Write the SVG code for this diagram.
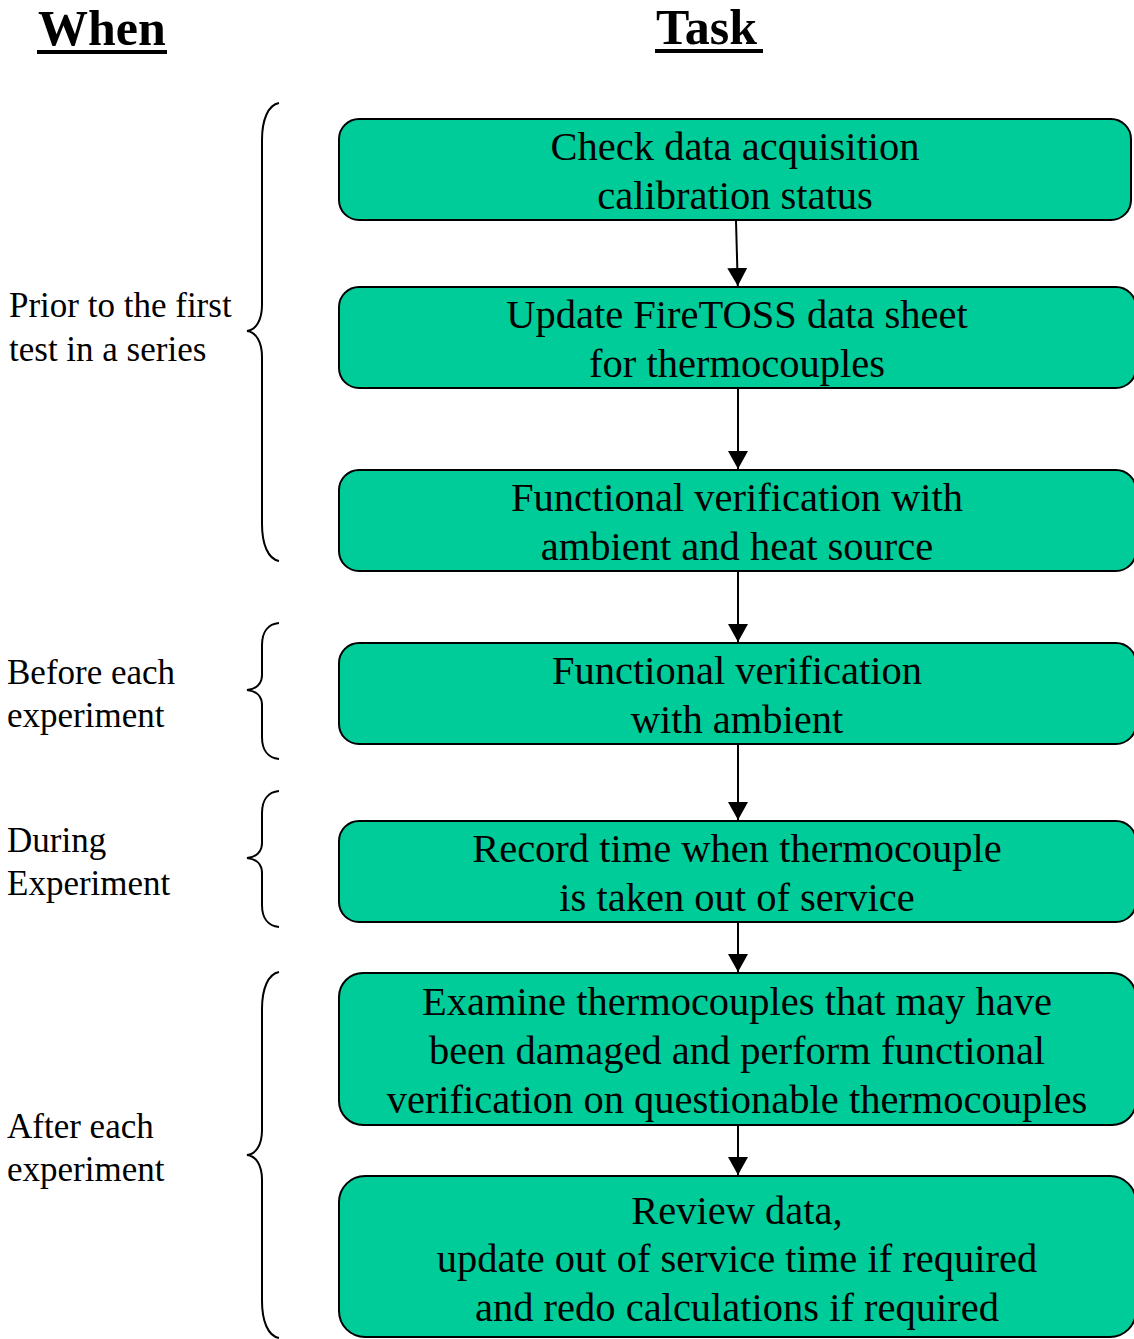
<svg xmlns="http://www.w3.org/2000/svg" width="1134" height="1339" viewBox="0 0 1134 1339">
<style>
.box{fill:#00CC99;stroke:#000;stroke-width:2}
.t{font-family:"Liberation Serif","Times New Roman",serif;font-size:40.5px;fill:#000;text-anchor:middle}
.l{font-family:"Liberation Serif","Times New Roman",serif;font-size:35px;fill:#000}
.h{font-family:"Liberation Serif","Times New Roman",serif;font-size:50px;font-weight:bold;fill:#000}
.c{stroke:#000;stroke-width:2;fill:none}
.b{stroke:#000;stroke-width:2;fill:none}
</style>
<defs>
<marker id="ah" markerWidth="20" markerHeight="20" refX="18" refY="10" orient="auto" markerUnits="userSpaceOnUse" viewBox="0 0 20 20">
<path d="M0,0 L18,10 L0,20 z" fill="#000"/>
</marker>
</defs>
<g id="headers">
<text class="h" x="38" y="45">When</text>
<rect x="37" y="50" width="130" height="4" fill="#000"/>
<text class="h" x="656" y="44">Task</text>
<rect x="655" y="49" width="108" height="4" fill="#000"/>
</g>
<g id="labels">
<text class="l" x="9" y="317">Prior to the first</text>
<text class="l" x="9" y="361">test in a series</text>
<text class="l" x="7" y="684">Before each</text>
<text class="l" x="7" y="727">experiment</text>
<text class="l" x="7" y="852">During</text>
<text class="l" x="7" y="895">Experiment</text>
<text class="l" x="7" y="1138">After each</text>
<text class="l" x="7" y="1181">experiment</text>
</g>
<g id="braces">
<path class="b" d="M279,103 C268,105 262,120 262,140 L262,305 C262,320 256,330 247,331 C256,332 262,342 262,357 L262,524 C262,544 268,559 279,561"/>
<path class="b" d="M279,623 C268,624 262,632 262,645 L262,675 C262,684 256,689 247,690 C256,691 262,696 262,705 L262,737 C262,750 268,758 279,759"/>
<path class="b" d="M279,791 C268,792 262,800 262,813 L262,843 C262,852 256,857 247,858 C256,859 262,864 262,873 L262,905 C262,918 268,926 279,927"/>
<path class="b" d="M279,972 C268,974 262,989 262,1009 L262,1130 C262,1145 256,1154 247,1155 C256,1156 262,1165 262,1180 L262,1301 C262,1321 268,1336 279,1338"/>
</g>
<g id="connectors">
<line class="c" x1="736" y1="221" x2="737.8" y2="286" marker-end="url(#ah)"/>
<line class="c" x1="738" y1="389" x2="738" y2="469" marker-end="url(#ah)"/>
<line class="c" x1="738" y1="572" x2="738" y2="642" marker-end="url(#ah)"/>
<line class="c" x1="738" y1="745" x2="738" y2="820" marker-end="url(#ah)"/>
<line class="c" x1="738" y1="923" x2="738" y2="972" marker-end="url(#ah)"/>
<line class="c" x1="738" y1="1126" x2="738" y2="1175" marker-end="url(#ah)"/>
</g>
<g id="n1">
<rect class="box" x="339" y="119" width="792" height="101" rx="20"/>
<text class="t" x="735" y="160">Check data acquisition</text>
<text class="t" x="735" y="209">calibration status</text>
</g>
<g id="n2">
<rect class="box" x="339" y="287" width="797" height="101" rx="20"/>
<text class="t" x="737" y="328">Update FireTOSS data sheet</text>
<text class="t" x="737" y="377">for thermocouples</text>
</g>
<g id="n3">
<rect class="box" x="339" y="470" width="797" height="101" rx="20"/>
<text class="t" x="737" y="511">Functional verification with</text>
<text class="t" x="737" y="560">ambient and heat source</text>
</g>
<g id="n4">
<rect class="box" x="339" y="643" width="797" height="101" rx="20"/>
<text class="t" x="737" y="684">Functional verification</text>
<text class="t" x="737" y="733">with ambient</text>
</g>
<g id="n5">
<rect class="box" x="339" y="821" width="797" height="101" rx="20"/>
<text class="t" x="737" y="862">Record time when thermocouple</text>
<text class="t" x="737" y="911">is taken out of service</text>
</g>
<g id="n6">
<rect class="box" x="339" y="973" width="797" height="152" rx="24"/>
<text class="t" x="737" y="1015">Examine thermocouples that may have</text>
<text class="t" x="737" y="1064">been damaged and perform functional</text>
<text class="t" x="737" y="1113">verification on questionable thermocouples</text>
</g>
<g id="n7">
<rect class="box" x="339" y="1176" width="797" height="161" rx="26"/>
<text class="t" x="737" y="1224">Review data,</text>
<text class="t" x="737" y="1272">update out of service time if required</text>
<text class="t" x="737" y="1321">and redo calculations if required</text>
</g>
</svg>
